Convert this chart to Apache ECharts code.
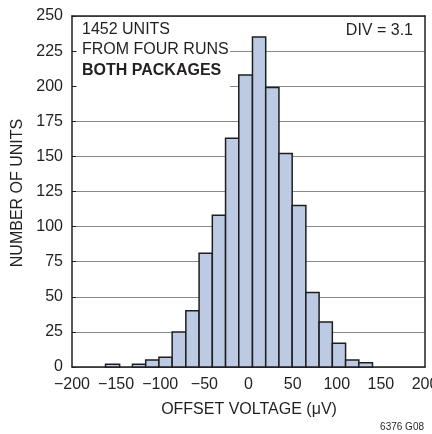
<!DOCTYPE html>
<html>
<head>
<meta charset="utf-8">
<script src="https://cdn.jsdelivr.net/npm/echarts@6/dist/echarts.min.js"></script>
<style>
html,body{margin:0;padding:0;background:#fff;}
#chart{width:432px;height:434px;}
</style>
</head>
<body>
<div id="chart"></div>
<script>
// Histogram bin edges (µV) and counts
var binEdges = [-162, -146, -131.5, -116.5, -101.5, -86.5, -71, -56, -41, -26, -11, 4.5, 19.5, 34.5, 49.5, 65, 80, 95, 110, 125, 140.5];
var counts   = [2, 0, 2, 5, 7, 25, 40, 81, 108, 163, 208, 235, 199, 152, 115, 53, 32, 17, 5, 3];
var xTicks = [-200, -150, -100, -50, 0, 50, 100, 150, 200];
var yTicks = [0, 25, 50, 75, 100, 125, 150, 175, 200, 225, 250];
var noteLines = ['1452 UNITS', 'FROM FOUR RUNS', 'BOTH PACKAGES'];
var divLabel = 'DIV = 3.1';
var yTitle = 'NUMBER OF UNITS';
var xTitle = 'OFFSET VOLTAGE (\u03bcV)';
var figId = '6376 G08';

var FONT = '"Liberation Sans", Arial, sans-serif';
var FS = 16;
var TXT = '#231f20';
var FRAME = {show: true, onZero: false, lineStyle: {color: TXT, width: 1.5}};

var data = counts.map(function (c, i) { return [binEdges[i], binEdges[i + 1], c]; });

var xMin = xTicks[0], xMax = xTicks[xTicks.length - 1];
var yMin = yTicks[0], yMax = yTicks[yTicks.length - 1];

var chart = echarts.init(document.getElementById('chart'), null, {renderer: 'canvas'});
chart.setOption({
  animation: false,
  backgroundColor: '#fff',
  grid: {left: 72, right: 7, top: 16, bottom: 67, containLabel: false, outerBoundsMode: 'none', show: false},
  xAxis: [{
    type: 'value', position: 'bottom', min: xMin, max: xMax, interval: 50, name: '',
    axisLine: FRAME, axisTick: {show: false}, splitLine: {show: false},
    axisLabel: {color: TXT, fontFamily: FONT, fontSize: FS, margin: 10, showMinLabel: true, showMaxLabel: true, hideOverlap: false,
      formatter: function (v) { return String(v).replace('-', '\u2212'); }}
  }, {
    type: 'value', position: 'top', min: xMin, max: xMax, interval: 50, name: '',
    axisLine: FRAME, axisTick: {show: false}, splitLine: {show: false}, axisLabel: {show: false}
  }],
  yAxis: [{
    type: 'value', position: 'left', min: yMin, max: yMax, interval: 25, name: '',
    axisLine: FRAME,
    axisTick: {show: true, inside: true, length: 4, lineStyle: {color: TXT, width: 1}},
    splitLine: {show: true, lineStyle: {color: '#8a8a8a', width: 1}},
    axisLabel: {color: TXT, fontFamily: FONT, fontSize: FS, margin: 9, showMinLabel: true, showMaxLabel: true, hideOverlap: false}
  }, {
    type: 'value', position: 'right', min: yMin, max: yMax, interval: 25, name: '',
    axisLine: FRAME, axisTick: {show: false}, splitLine: {show: false}, axisLabel: {show: false}
  }],
  series: [{
    type: 'custom',
    xAxisIndex: 0, yAxisIndex: 0,
    data: data,
    encode: {x: [0, 1], y: 2},
    renderItem: function (params, api) {
      if (api.value(2) <= 0) return null;
      var p0 = api.coord([api.value(0), api.value(2)]);
      var p1 = api.coord([api.value(1), 0]);
      return {
        type: 'rect',
        shape: {x: p0[0], y: p0[1], width: p1[0] - p0[0], height: p1[1] - p0[1]},
        style: {fill: '#bccbe3', stroke: '#1e1e1e', lineWidth: 1.5}
      };
    },
    z: 3
  }],
  graphic: [
    {type: 'rect', z: 10, shape: {x: 77, y: 17, width: 153, height: 76}, style: {fill: '#fff'}},
    {type: 'text', z: 11, x: 82, y: 30, style: {text: noteLines[0], font: FS + 'px ' + FONT, fill: TXT, align: 'left', verticalAlign: 'middle', textAlign: 'left', textVerticalAlign: 'middle'}},
    {type: 'text', z: 11, x: 82, y: 50, style: {text: noteLines[1], font: FS + 'px ' + FONT, fill: TXT, align: 'left', verticalAlign: 'middle', textAlign: 'left', textVerticalAlign: 'middle'}},
    {type: 'text', z: 11, x: 82, y: 71, style: {text: noteLines[2], font: 'bold ' + FS + 'px ' + FONT, fill: TXT, align: 'left', verticalAlign: 'middle', textAlign: 'left', textVerticalAlign: 'middle'}},
    {type: 'text', z: 11, x: 413, y: 31, style: {text: divLabel, font: FS + 'px ' + FONT, fill: TXT, align: 'right', verticalAlign: 'middle', textAlign: 'right', textVerticalAlign: 'middle'}},
    {type: 'text', z: 11, x: 18, y: 193, rotation: Math.PI / 2, style: {text: yTitle, font: FS + 'px ' + FONT, fill: TXT, align: 'center', verticalAlign: 'middle', textAlign: 'center', textVerticalAlign: 'middle'}},
    {type: 'text', z: 11, x: 249, y: 410, style: {text: xTitle, font: FS + 'px ' + FONT, fill: TXT, align: 'center', verticalAlign: 'middle', textAlign: 'center', textVerticalAlign: 'middle'}},
    {type: 'text', z: 11, x: 424, y: 427, style: {text: figId, font: '10px ' + FONT, fill: TXT, align: 'right', verticalAlign: 'middle', textAlign: 'right', textVerticalAlign: 'middle'}}
  ]
});
</script>
</body>
</html>
